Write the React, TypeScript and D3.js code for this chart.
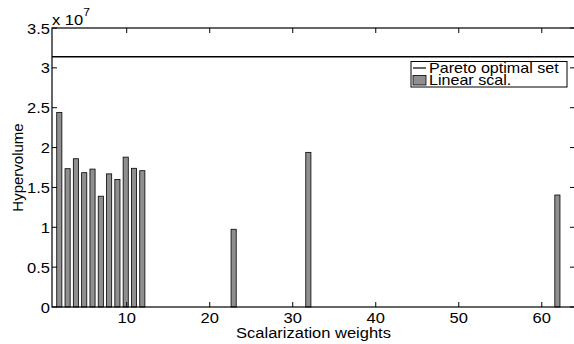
import React, { useEffect, useRef } from "react";
import * as d3 from "d3";

// Linear scalarization results (x = weight index, y = hypervolume)
const weights = [2, 3, 4, 5, 6, 7, 8, 9, 10, 11, 12, 23, 32, 62];
const hypervolume = [
  2.44e7, 1.735e7, 1.86e7, 1.685e7, 1.73e7, 1.39e7, 1.67e7, 1.6e7, 1.88e7,
  1.74e7, 1.71e7, 0.975e7, 1.94e7, 1.405e7,
];
const paretoValue = 3.14e7;
const xTicks = [10, 20, 30, 40, 50, 60];
const yTicks = [0, 0.5, 1, 1.5, 2, 2.5, 3, 3.5];
const legendLabels = ["Pareto optimal set", "Linear scal."];

const App = () => {
  const ref = useRef<SVGSVGElement>(null);

  useEffect(() => {
    const svg = d3.select(ref.current);
    svg.selectAll("*").remove();
    const left = 52,
      right = 575,
      top = 28,
      bottom = 307;
    const font = "'Liberation Sans', Arial, Helvetica, sans-serif";
    const fs = 15;

    const x = d3.scaleLinear().domain([1, 64]).range([left, right]);
    const y = d3.scaleLinear().domain([0, 3.5e7]).range([bottom, top]);
    const bw = (x(2) - x(1)) * 0.62;

    const g = svg.append("g");

    // text in the original is a bit wide, so stretch it horizontally
    const label = (px, py, str, anchor = "start", size = fs, sx = 1.1) =>
      g
        .append("text")
        .attr("transform", `translate(${px},${py}) scale(${sx},1)`)
        .attr("text-anchor", anchor)
        .attr("font-family", font)
        .attr("font-size", size)
        .text(str);

    // bars
    g.selectAll("rect.bar")
      .data(weights)
      .enter()
      .append("rect")
      .attr("class", "bar")
      .attr("x", (d) => x(d) - bw / 2 - 1)
      .attr("width", bw)
      .attr("y", (d, i) => y(hypervolume[i]))
      .attr("height", (d, i) => y(0) - y(hypervolume[i]))
      .attr("fill", "#8f8f8f")
      .attr("stroke", "#000")
      .attr("stroke-width", 0.8);

    // pareto line
    g.append("line")
      .attr("x1", left)
      .attr("x2", right)
      .attr("y1", y(paretoValue))
      .attr("y2", y(paretoValue))
      .attr("stroke", "#000")
      .attr("stroke-width", 1.4);

    // axes box
    g.append("rect")
      .attr("x", left)
      .attr("y", top)
      .attr("width", right - left)
      .attr("height", bottom - top)
      .attr("fill", "none")
      .attr("stroke", "#000")
      .attr("stroke-width", 1.2);

    const tl = 5;
    xTicks.forEach((t) => {
      g.append("line")
        .attr("x1", x(t)).attr("x2", x(t))
        .attr("y1", bottom).attr("y2", bottom - tl)
        .attr("stroke", "#000");
      g.append("line")
        .attr("x1", x(t)).attr("x2", x(t))
        .attr("y1", top).attr("y2", top + tl)
        .attr("stroke", "#000");
      label(x(t), 322.5, t, "middle");
    });

    yTicks.forEach((t) => {
      const yy = y(t * 1e7);
      g.append("line")
        .attr("x1", left).attr("x2", left + tl)
        .attr("y1", yy).attr("y2", yy)
        .attr("stroke", "#000");
      g.append("line")
        .attr("x1", right).attr("x2", right - tl)
        .attr("y1", yy).attr("y2", yy)
        .attr("stroke", "#000");
      label(left - 2, yy + 5.5, t, "end");
    });

    // exponent
    const ex = label(left, top - 3, "x 10");
    ex.append("tspan").attr("dy", -9).attr("font-size", 11).text("7");

    // axis labels
    label((left + right) / 2, 338, "Scalarization weights", "middle");
    g.append("text")
      .attr("transform", `translate(23,${(top + bottom) / 2}) rotate(-90)`)
      .attr("text-anchor", "middle")
      .attr("font-family", font)
      .attr("font-size", fs)
      .text("Hypervolume");

    // legend
    const lx = 411,
      ly = 61.5,
      lw = 156,
      lh = 25.5;
    g.append("rect")
      .attr("x", lx).attr("y", ly)
      .attr("width", lw).attr("height", lh)
      .attr("fill", "#fff")
      .attr("stroke", "#000")
      .attr("stroke-width", 1);
    g.append("line")
      .attr("x1", lx + 2).attr("x2", lx + 15)
      .attr("y1", ly + 6.5).attr("y2", ly + 6.5)
      .attr("stroke", "#000")
      .attr("stroke-width", 1.2);
    g.append("rect")
      .attr("x", lx + 2).attr("y", ly + 14)
      .attr("width", 13).attr("height", 9.5)
      .attr("fill", "#8f8f8f")
      .attr("stroke", "#000")
      .attr("stroke-width", 0.8);
    legendLabels.forEach((l, i) => {
      label(lx + 18, ly + 11.5 + i * 12.3, l, "start", 14, 1.15);
    });
  }, []);

  return (
    <svg
      ref={ref}
      width={574}
      height={344}
      style={{ position: "absolute", left: 0, top: 0, background: "#fff" }}
    ></svg>
  );
};

export default App;
